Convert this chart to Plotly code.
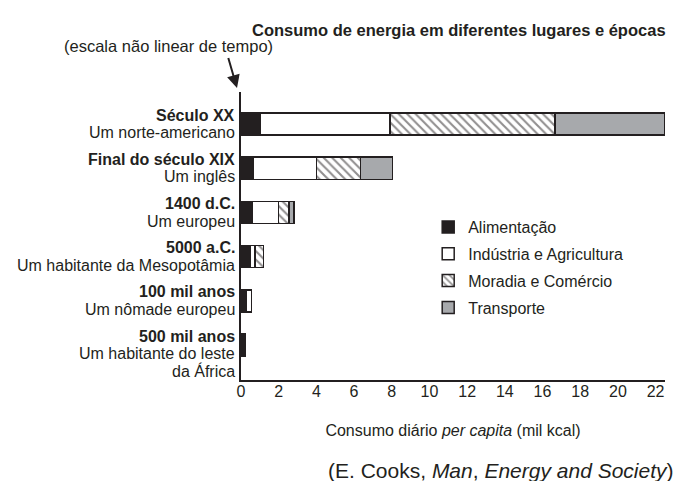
import plotly.graph_objects as go

# ---- data ----
periods = ["Século XX", "Final do século XIX", "1400 d.C.", "5000 a.C.", "100 mil anos", "500 mil anos"]
people = [["Um norte-americano"], ["Um inglês"], ["Um europeu"], ["Um habitante da Mesopotâmia"],
          ["Um nômade europeu"], ["Um habitante do leste", "da África"]]
alimentacao = [1.0, 0.65, 0.6, 0.5, 0.3, 0.2]
industria = [6.9, 3.35, 1.4, 0.25, 0.25, None]
moradia = [8.75, 2.35, 0.55, 0.45, None, None]
transporte = [5.85, 1.7, 0.25, None, None, None]
x_ticks = list(range(0, 23, 2))

FONT = "Liberation Sans, Arial, Helvetica, sans-serif"
INK = "#231f20"

fig = go.Figure()
line = dict(color=INK, width=1.5)
fig.add_bar(y=periods, x=alimentacao, orientation="h", name="Alimentação", legendgroup="a",
            marker=dict(color=INK, line=line))
fig.add_bar(y=periods, x=industria, orientation="h", name="Indústria e Agricultura", legendgroup="b",
            marker=dict(color="white", line=line))
fig.add_bar(y=periods, x=moradia, orientation="h", name="Moradia e Comércio", legendgroup="c",
            marker=dict(color="white", line=line,
                        pattern=dict(shape="\\", fgcolor=INK, bgcolor="white", size=6, solidity=0.35)))
fig.add_bar(y=periods, x=transporte, orientation="h", name="Transporte", legendgroup="d",
            marker=dict(color="#a7a9ac", line=line))

annotations = []
# category labels (bold period + regular description lines)
for p, lines in zip(periods, people):
    all_lines = ["<b>%s</b>" % p] + lines
    for i, t in enumerate(all_lines):
        annotations.append(dict(xref="paper", yref="y", x=0, y=p, xanchor="right", yanchor="middle",
                                xshift=-4, yshift=9 - 17.7 * i, text=t, showarrow=False,
                                font=dict(size=16, color=INK, family=FONT)))

annotations += [
    dict(xref="paper", yref="paper", x=1.006, y=1.215, xanchor="right", yanchor="middle",
         text="<b>Consumo de energia em diferentes lugares e épocas</b>", showarrow=False,
         font=dict(size=16.5, color=INK, family=FONT)),
    dict(xref="paper", yref="paper", x=0.0803, y=1.16, xanchor="right", yanchor="middle",
         text="(escala não linear de tempo)", showarrow=False,
         font=dict(size=16.5, color=INK, family=FONT)),
    dict(xref="paper", yref="paper", x=-0.0094, y=1.014, text=" ", showarrow=True,
         ax=-9, ay=-31, arrowhead=2, arrowsize=1.3, arrowwidth=2, arrowcolor=INK,
         font=dict(size=1), borderpad=0),
    dict(xref="paper", yref="paper", x=1.027, y=-0.3125, xanchor="right", yanchor="middle",
         text="(E. Cooks, <i>Man</i>, <i>Energy and Society</i>)", showarrow=False,
         font=dict(size=21, color=INK, family=FONT)),
]

# the page body has an 8px margin, so the figure is 8px smaller than the window
fig.update_layout(
    width=673, height=473,
    margin=dict(l=233, r=16, t=84, b=101),
    paper_bgcolor="white", plot_bgcolor="white",
    barmode="stack", bargap=0.5,
    font=dict(family=FONT, size=16, color=INK),
    showlegend=True,
    legend=dict(x=0.4415, y=0.59, xanchor="left", yanchor="top", traceorder="grouped",
                tracegroupgap=3, font=dict(size=16, color=INK, family=FONT),
                bgcolor="rgba(0,0,0,0)"),
    annotations=annotations,
)
fig.update_xaxes(range=[0, 22.5], tickvals=x_ticks, ticks="", showgrid=False, zeroline=False,
                 showline=True, linecolor=INK, linewidth=2, tickfont=dict(size=16),
                 ticklabelstandoff=-4,
                 title=dict(text="Consumo diário <i>per capita</i> (mil kcal)", standoff=26,
                            font=dict(size=16)))
fig.update_yaxes(type="category", categoryarray=periods, range=[5.79, -0.724], showticklabels=False,
                 ticks="", showgrid=False, zeroline=False, showline=True, linecolor=INK, linewidth=2)

fig.write_html("out.html")
